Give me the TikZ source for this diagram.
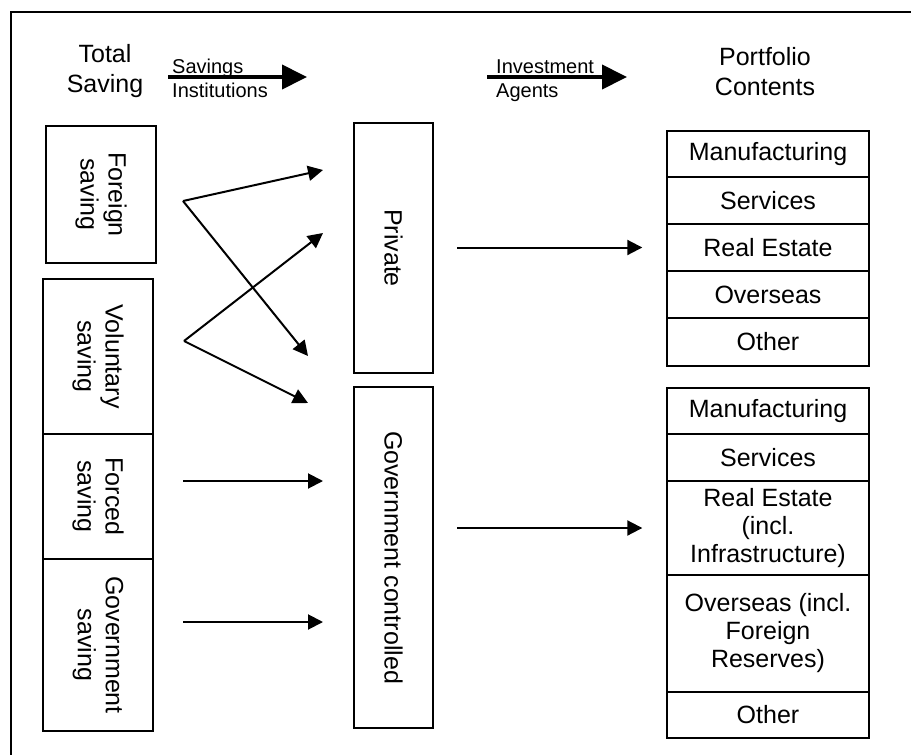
\documentclass[tikz,border=0pt]{standalone}
\usepackage{fontspec}
\setmainfont{Liberation Sans}
\usetikzlibrary{arrows.meta}

\begin{document}
\begin{tikzpicture}[x=1pt,y=-1pt,
  every node/.style={inner sep=0pt, font=\fontsize{25}{28}\selectfont},
  sbox/.style={draw, line width=1.4pt, align=center, rotate=-90},
  cell/.style={draw, line width=1.4pt, align=center, minimum width=202pt},
  flow/.style={line width=2pt, -{Triangle[length=15pt,width=15pt]}},
  bigflow/.style={line width=4pt, -{Triangle[length=25pt,width=24pt]}},
  small/.style={font=\fontsize{20}{22}\selectfont}]
\useasboundingbox (0,0) rectangle (911,755);
\draw [line width=2pt] (11,755) -- (11,12) -- (911,12);

\node [align=center, font=\fontsize{25}{30}\selectfont] (total) at (105,71.5) {Total\\Saving};
\node [align=center, font=\fontsize{25}{30}\selectfont] (portf) at (765,71.5) {Portfolio\\Contents};
\coordinate (si1) at (168,77);
\coordinate (si2) at (307,77);
\draw [bigflow] (si1) -- (si2);
\node [small, anchor=base west] (sav) at (172,73) {Savings};
\node [small, anchor=base west] (inst) at (172,97) {Institutions};
\coordinate (ia1) at (487,77);
\coordinate (ia2) at (627,77);
\draw [bigflow] (ia1) -- (ia2);
\node [small, anchor=base west] (inv) at (496,73) {Investment};
\node [small, anchor=base west] (agt) at (496,97) {Agents};

\node [sbox, minimum width=137pt, minimum height=110pt] (fgn) at (101,194.5) {Foreign\\saving};
\node [sbox, minimum width=155pt, minimum height=110pt] (vol) at (98,356.5) {Voluntary\\saving};
\node [sbox, minimum width=125pt, minimum height=110pt] (frc) at (98,496.5) {Forced\\saving};
\node [sbox, minimum width=172pt, minimum height=110pt] (gsv) at (98,645) {Government\\saving};

\node [sbox, minimum width=250pt, minimum height=79pt] (priv) at (393.5,248) {Private};
\node [sbox, minimum width=341pt, minimum height=79pt] (gov) at (393.5,557.5) {Government controlled};

\coordinate (fs) at (183,201);
\coordinate (vs) at (184,341);
\coordinate (p1) at (323,170);
\coordinate (p2) at (323,233);
\coordinate (g1) at (308,356);
\coordinate (g2) at (308,403);
\coordinate (fc1) at (183,481);
\coordinate (fc2) at (323,481);
\coordinate (gs1) at (183,622);
\coordinate (gs2) at (323,622);
\draw [flow] (fs) -- (p1);
\draw [flow] (fs) -- (g1);
\draw [flow] (vs) -- (p2);
\draw [flow] (vs) -- (g2);
\draw [flow] (fc1) -- (fc2);
\draw [flow] (gs1) -- (gs2);

\node [cell, minimum height=46pt] (pma) at (768,154) {Manufacturing};
\node [cell, minimum height=47pt] (pse) at (768,200.5) {Services};
\node [cell, minimum height=47pt] (pre) at (768,247.5) {Real Estate};
\node [cell, minimum height=47pt] (pov) at (768,294.5) {Overseas};
\node [cell, minimum height=48pt] (pot) at (768,342) {Other};

\node [cell, minimum height=46pt] (gma) at (768,411) {Manufacturing};
\node [cell, minimum height=47pt] (gse) at (768,457.5) {Services};
\node [cell, minimum height=94pt] (gre) at (768,528) {Real Estate\\(incl.\\Infrastructure)};
\node [cell, minimum height=117pt] (gov2) at (768,633.5) {Overseas (incl.\\Foreign\\Reserves)};
\node [cell, minimum height=46pt] (got) at (768,715) {Other};

\draw [flow, shorten <=23.5pt, shorten >=24pt] (priv.north |- pre.west) -- (pre.west);
\draw [flow, shorten <=23.5pt, shorten >=24pt] (gov.north |- gre.west) -- (gre.west);
\end{tikzpicture}
\end{document}
